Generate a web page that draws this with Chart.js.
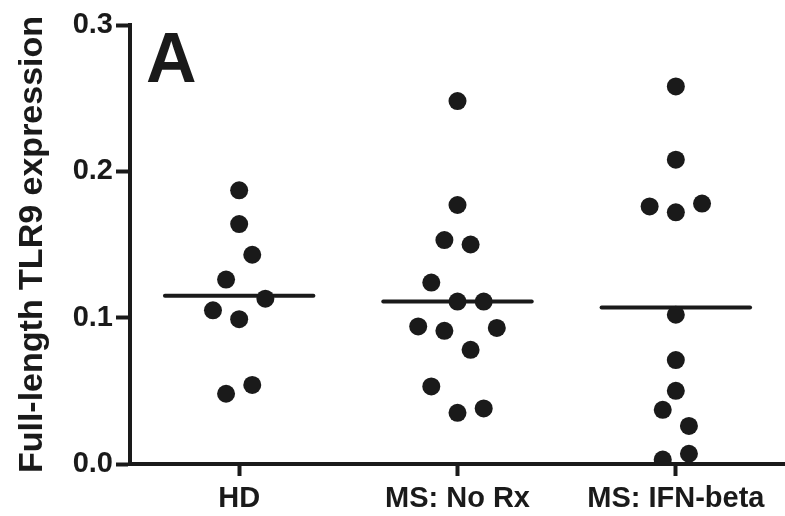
<!DOCTYPE html>
<html>
<head>
<meta charset="utf-8">
<script src="https://cdn.jsdelivr.net/npm/chart.js@4.4.1/dist/chart.umd.min.js"></script>
<style>
  html, body { margin: 0; padding: 0; background: #fff; }
  #wrap { position: relative; width: 785px; height: 516px; }
</style>
</head>
<body>
<div id="wrap"><canvas id="tlr9Chart" width="785" height="516"></canvas></div>
<script>
// groups on the x axis
const categories = ['HD', 'MS: No Rx', 'MS: IFN-beta'];

// jitter offsets (in category units) and values
const hdOffsets = [0, 0, 0.06, -0.06, 0.12, -0.12, 0, 0.06, -0.06];
const hdValues = [0.187, 0.164, 0.143, 0.126, 0.113, 0.105, 0.099, 0.054, 0.048];

const noRxOffsets = [0, 0, -0.06, 0.06, -0.12, 0, 0.12, -0.18, -0.06, 0.18, 0.06, -0.12, 0.12, 0];
const noRxValues = [0.248, 0.177, 0.153, 0.150, 0.124, 0.111, 0.111, 0.094, 0.091, 0.093, 0.078, 0.053, 0.038, 0.035];

const ifnOffsets = [0, 0, -0.12, 0, 0.12, 0, 0, 0, -0.06, 0.06, -0.06, 0.06];
const ifnValues = [0.258, 0.208, 0.176, 0.172, 0.178, 0.102, 0.071, 0.050, 0.037, 0.026, 0.003, 0.007];

// group means (horizontal bars)
const meanValues = [0.115, 0.111, 0.107];

const yTicks = [0.0, 0.1, 0.2, 0.3];

const FONT = '"Liberation Sans", Arial, Helvetica, sans-serif';
const INK = '#1a1a1a';
const halfBar = 0.34;

function groupPoints(index, offsets, values) {
    return values.map((v, i) => ({ x: index + 1 + offsets[i], y: v }));
}

const groups = [
    groupPoints(0, hdOffsets, hdValues),
    groupPoints(1, noRxOffsets, noRxValues),
    groupPoints(2, ifnOffsets, ifnValues)
];

const datasets = [];

groups.forEach((pts, i) => {
    datasets.push({
        label: categories[i],
        data: pts,
        backgroundColor: INK,
        borderColor: INK,
        borderWidth: 0,
        pointRadius: 9,
        pointHoverRadius: 9,
        clip: { left: 20, right: 20, top: 20, bottom: 0 }
    });
});

meanValues.forEach((m, i) => {
    datasets.push({
        label: categories[i] + ' mean',
        data: [
            { x: i + 1 - halfBar, y: m },
            { x: i + 1 + halfBar, y: m }
        ],
        showLine: true,
        borderColor: INK,
        borderWidth: 4,
        borderCapStyle: 'round',
        pointRadius: 0,
        pointHoverRadius: 0
    });
});

// the big panel letter
const panelLetter = {
    id: 'panelLetter',
    afterDraw(chart) {
        const ctx = chart.ctx;
        ctx.save();
        ctx.fillStyle = INK;
        ctx.font = 'bold 70px ' + FONT;
        ctx.textBaseline = 'alphabetic';
        ctx.textAlign = 'left';
        ctx.fillText('A', 146, 82);
        ctx.restore();
    }
};

const ctx = document.getElementById('tlr9Chart').getContext('2d');
new Chart(ctx, {
    type: 'scatter',
    data: { datasets: datasets },
    options: {
        responsive: false,
        animation: false,
        events: [],
        layout: { autoPadding: false, padding: { top: 25, right: 0, bottom: 0, left: 0 } },
        plugins: {
            legend: { display: false },
            tooltip: { enabled: false }
        },
        scales: {
            x: {
                type: 'linear',
                min: 0.5,
                max: 3.5,
                z: 1,
                afterBuildTicks: (axis) => {
                    axis.ticks = categories.map((c, i) => ({ value: i + 1 }));
                },
                afterFit: (axis) => { axis.height = 52; },
                border: { display: true, color: INK, width: 4 },
                grid: {
                    display: true,
                    drawOnChartArea: false,
                    drawTicks: true,
                    tickLength: 12,
                    tickWidth: 4,
                    tickColor: INK
                },
                ticks: {
                    color: INK,
                    padding: 6,
                    maxRotation: 0,
                    autoSkip: false,
                    font: { family: FONT, size: 29, weight: 'bold' },
                    callback: (value) => categories[Math.round(value) - 1]
                }
            },
            y: {
                min: 0,
                max: 0.3,
                z: 1,
                afterBuildTicks: (axis) => {
                    axis.ticks = yTicks.map(v => ({ value: v }));
                },
                afterFit: (axis) => { axis.width = 130; },
                border: { display: true, color: INK, width: 4 },
                grid: {
                    display: true,
                    drawOnChartArea: false,
                    drawTicks: true,
                    tickLength: 14,
                    tickWidth: 4,
                    tickColor: INK
                },
                ticks: {
                    color: INK,
                    padding: 3,
                    font: { family: FONT, size: 29, weight: 'bold' },
                    callback: (value) => value.toFixed(1)
                },
                title: {
                    display: true,
                    text: 'Full-length TLR9 expression',
                    color: INK,
                    padding: { top: 12, bottom: 0 },
                    font: { family: FONT, size: 34, weight: 'bold' }
                }
            }
        }
    },
    plugins: [panelLetter]
});
</script>
</body>
</html>
